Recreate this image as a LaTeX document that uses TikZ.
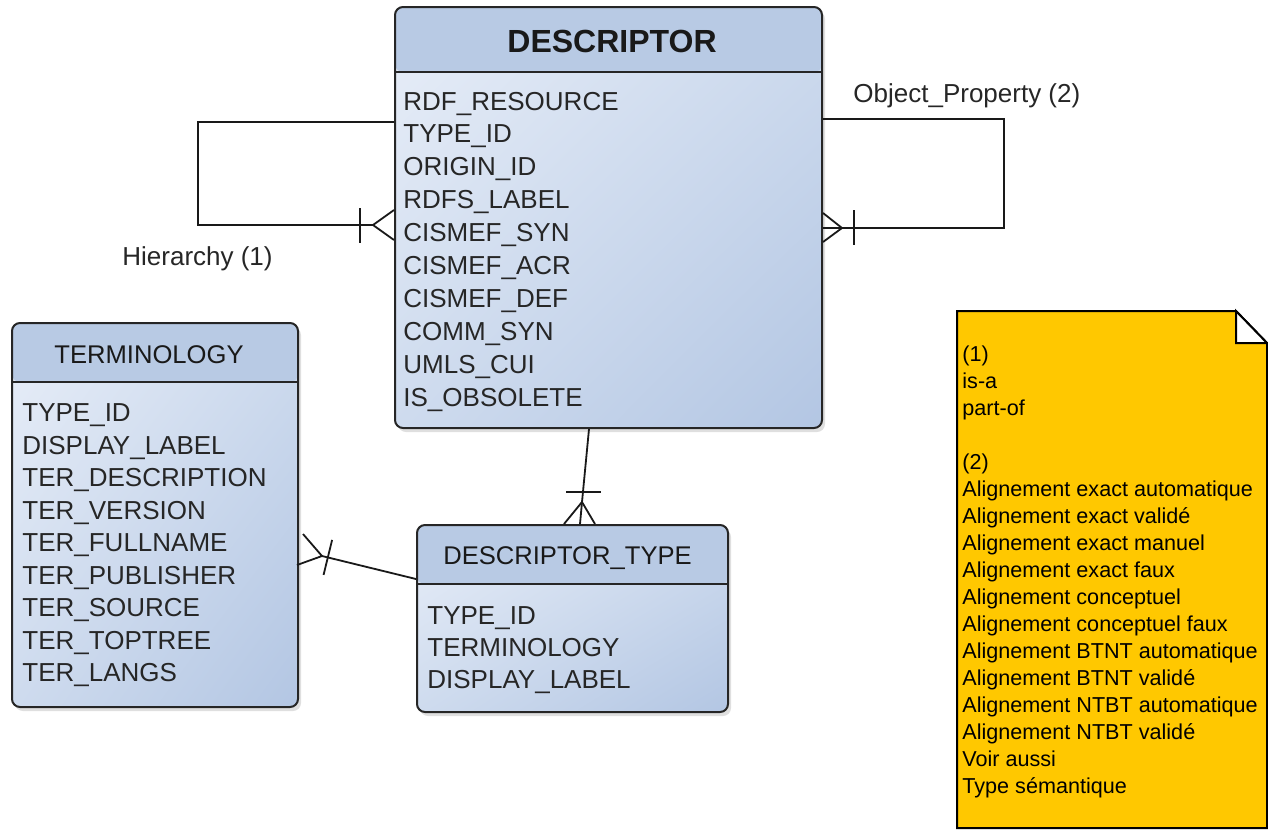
\documentclass[tikz,border=0pt]{standalone}
\usepackage{fontspec}
\setmainfont{Liberation Sans}
\usetikzlibrary{calc,shadows,shadings}

\definecolor{bodytl}{HTML}{E8EEF8}
\definecolor{bodymid}{HTML}{CEDBEE}
\definecolor{bodybr}{HTML}{B3C6E3}
\definecolor{headfill}{HTML}{B8CAE4}
\definecolor{notefill}{HTML}{FFC800}

\tikzset{
  entity/.style={draw=black!85, line width=1pt, rounded corners=4pt, inner sep=0pt,
    upper left=bodytl, upper right=bodymid, lower left=bodymid, lower right=bodybr,
    drop shadow={shadow xshift=1.5pt, shadow yshift=-2pt, opacity=0.25},
    path picture={
      \fill[headfill] (path picture bounding box.north west) rectangle ([yshift=-#1]path picture bounding box.north east);
      \draw[black!85, line width=1pt] ([yshift=-#1]path picture bounding box.north west) -- ([yshift=-#1]path picture bounding box.north east);
    }},
  etitle/.style={anchor=base, inner sep=0pt, font=\fontsize{12.8}{15}\selectfont, text=black!90},
  field/.style={anchor=base west, inner sep=0pt, font=\fontsize{13}{15}\selectfont, text=black!85},
  notetext/.style={anchor=base west, inner sep=0pt, font=\fontsize{10.8}{13}\selectfont},
  rel/.style={draw=black!90, line width=0.9pt},
}

\begin{document}
\begin{tikzpicture}[x=0.5pt,y=-0.5pt]
\useasboundingbox (0,0) rectangle (1268,832);

% entities
\node[entity=32.5pt, minimum width=213.5pt, minimum height=210.5pt] (desc) at (608.5,217.5) {};
\node[etitle, font=\fontsize{16}{18}\selectfont\bfseries] (desc-title) at (612,52) {DESCRIPTOR};
\foreach \f [count=\i from 0] in {RDF\_RESOURCE,TYPE\_ID,ORIGIN\_ID,RDFS\_LABEL,CISMEF\_SYN,CISMEF\_ACR,CISMEF\_DEF,COMM\_SYN,UMLS\_CUI,IS\_OBSOLETE}
  \node[field] (desc-f\i) at (403,110+32.9*\i) {\f};

\node[entity=29.5pt, minimum width=143pt, minimum height=192pt] (term) at (155,515) {};
\node[etitle] (term-title) at (149,363) {TERMINOLOGY};
\foreach \f [count=\i from 0] in {TYPE\_ID,DISPLAY\_LABEL,TER\_DESCRIPTION,TER\_VERSION,TER\_FULLNAME,TER\_PUBLISHER,TER\_SOURCE,TER\_TOPTREE,TER\_LANGS}
  \node[field] (term-f\i) at (22,421.7+32.5*\i) {\f};

\node[entity=29.5pt, minimum width=155.5pt, minimum height=93.5pt] (dtype) at (572.5,618.5) {};
\node[etitle] (dtype-title) at (567.5,564) {DESCRIPTOR\_TYPE};
\foreach \f [count=\i from 0] in {TYPE\_ID,TERMINOLOGY,DISPLAY\_LABEL}
  \node[field] (dtype-f\i) at (427,624+32*\i) {\f};

% Hierarchy (1)
\coordinate (h-apex) at (373,225);
\draw[rel] (desc.west |- 0,122) -- ++(-196,0) |- (h-apex);
\draw[rel] (desc.west |- 0,210) -- (h-apex) -- (desc.west |- 0,240);
\draw[rel] ([shift={(-13,-17)}]h-apex) -- ++(0,35);
\node[field] (h-label) at (122,265) {Hierarchy (1)};

% Object_Property (2)
\coordinate (o-apex) at (842,228);
\draw[rel] (desc.east |- 0,119) -- ++(181,0) |- (desc.east |- 0,228);
\draw[rel] (desc.east |- 0,213) -- (o-apex) -- (desc.east |- 0,242);
\draw[rel] ([shift={(12,-18)}]o-apex) -- ++(0,35);
\node[field] (o-label) at (853,102) {Object\_Property (2)};

% DESCRIPTOR -- DESCRIPTOR_TYPE
\coordinate (dt-apex) at (582,502);
\draw[rel] (desc.south -| 589,0) -- (dt-apex) -- (dtype.north -| 580,0);
\draw[rel] (dtype.north -| 564,0) -- (dt-apex) -- (dtype.north -| 595,0);
\draw[rel] ([shift={(-16,-10)}]dt-apex) -- ++(35,0);

% TERMINOLOGY -- DESCRIPTOR_TYPE
\coordinate (t-apex) at (322,556);
\coordinate (t-end) at (dtype.west |- 0,579);
\draw[rel] (t-end) -- (t-apex);
\draw[rel] ([xshift=2pt]term.east |- 0,534) -- (t-apex) -- ([xshift=-1pt]term.east |- 0,565);
\coordinate (t-bar) at ($(t-apex)!3pt!(t-end)$);
\draw[rel] ($(t-bar)!9pt!90:(t-end)$) -- ($(t-bar)!9pt!-90:(t-end)$);

% note
\filldraw[fill=notefill, draw=black, line width=1pt] (957,311) -- (1236,311) -- (1267,343) -- (1267,828) -- (957,828) -- cycle;
\filldraw[fill=white, draw=black, line width=1pt] (1236,311) -- (1236,343) -- (1267,343) -- cycle;
\foreach \l [count=\i from 0] in {(1),is-a,part-of}
  \node[notetext] (n1-\i) at (962,361+27*\i) {\l};
\foreach \l [count=\i from 0] in {(2),Alignement exact automatique,Alignement exact validé,Alignement exact manuel,Alignement exact faux,Alignement conceptuel,Alignement conceptuel faux,Alignement BTNT automatique,Alignement BTNT validé,Alignement NTBT automatique,Alignement NTBT validé,Voir aussi,Type sémantique}
  \node[notetext] (n2-\i) at (962,469+27*\i) {\l};
\end{tikzpicture}
\end{document}
